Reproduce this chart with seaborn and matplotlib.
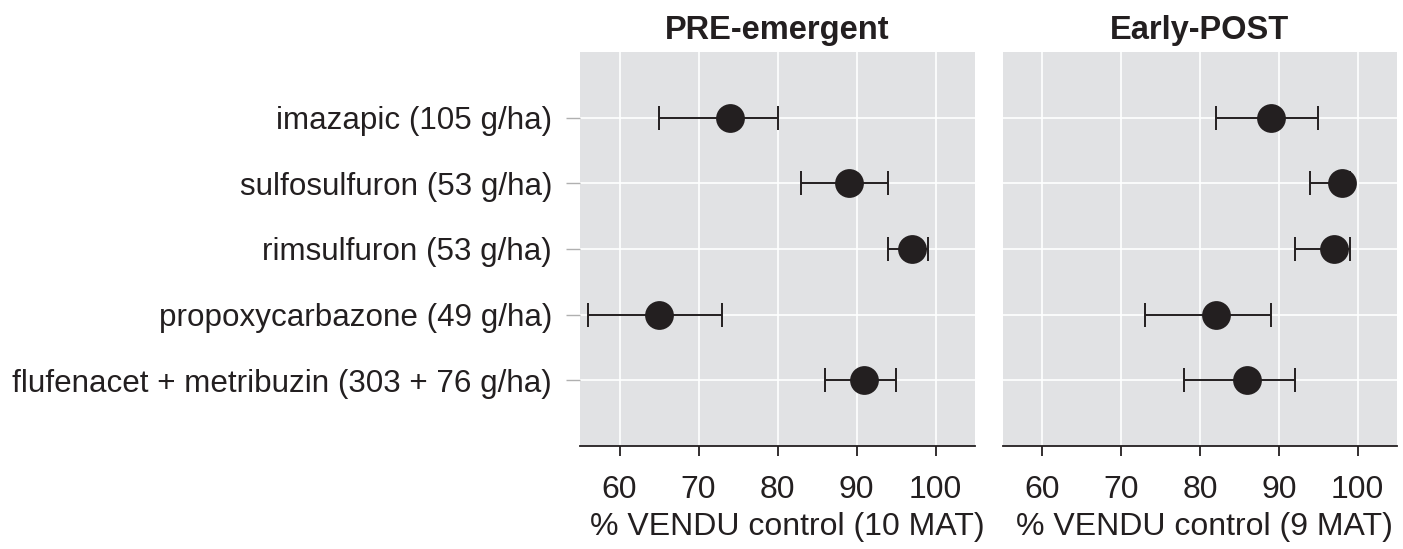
import matplotlib
matplotlib.use("Agg")
import matplotlib.pyplot as plt
import numpy as np
import pandas as pd
import seaborn as sns

# herbicides listed top to bottom
herbicides = ["imazapic (105 g/ha)", "sulfosulfuron (53 g/ha)", "rimsulfuron (53 g/ha)",
              "propoxycarbazone (49 g/ha)", "flufenacet + metribuzin (303 + 76 g/ha)"]
timings = ["PRE-emergent", "Early-POST"]
xlabels = ["% VENDU control (10 MAT)", "% VENDU control (9 MAT)"]

pre_mean = [74, 89, 97, 65, 91]
pre_low = [65, 83, 94, 56, 86]
pre_high = [80, 94, 99, 73, 95]

post_mean = [89, 98, 97, 82, 86]
post_low = [82, 94, 92, 73, 78]
post_high = [95, 99, 99, 89, 92]

xticks = [60, 70, 80, 90, 100]

df = pd.DataFrame({
    "herbicide": herbicides * 2,
    "pos": list(np.arange(len(herbicides))) * 2,
    "timing": [timings[0]] * 5 + [timings[1]] * 5,
    "mean": pre_mean + post_mean,
    "low": pre_low + post_low,
    "high": pre_high + post_high,
})

sns.set_theme(style="white")
plt.rcParams["font.family"] = ["Liberation Sans", "DejaVu Sans"]

ink = "#231f20"
bg = "#e1e2e4"

fig = plt.figure(figsize=(14.03, 5.49), dpi=100)
ax1 = fig.add_axes([0.4134, 0.1876, 0.2816, 0.7177])
ax2 = fig.add_axes([0.7149, 0.1876, 0.2808, 0.7177])

for i, (ax, timing) in enumerate(zip([ax1, ax2], timings)):
    sub = df[df["timing"] == timing]
    ax.set_facecolor(bg)
    ax.set_axisbelow(True)
    ax.grid(True, color="white", linewidth=1.2)
    ax.errorbar(sub["mean"], sub["pos"],
                xerr=[sub["mean"] - sub["low"], sub["high"] - sub["mean"]],
                fmt="none", ecolor=ink, elinewidth=1.4, capsize=8.5, capthick=1.4, zorder=2)
    sns.scatterplot(data=sub, x="mean", y="pos", ax=ax, color=ink, s=430,
                    edgecolor=ink, linewidth=0, legend=False, zorder=3)
    ax.set_xlim(55, 105)
    ax.set_ylim(5, -1)
    ax.set_xticks(xticks)
    ax.set_yticks(np.arange(len(herbicides)))
    if i == 0:
        ax.set_yticklabels(herbicides, fontsize=22.6, color=ink)
        ax.tick_params(axis="y", left=True, length=10, width=1, color="#b0b0b0", pad=10)
    else:
        ax.set_yticklabels([])
        ax.tick_params(axis="y", left=False, length=0)
    ax.tick_params(axis="x", bottom=True, length=7, width=1.3, color=ink,
                   labelsize=23, labelcolor=ink, pad=14)
    ax.set_xlabel(xlabels[i], fontsize=23, color=ink, labelpad=5)
    ax.xaxis.label.set_x(0.525 if i == 0 else 0.512)
    ax.set_ylabel("")
    ax.set_title(timing, fontsize=23.5, fontweight="bold", color=ink, pad=9)
    for side in ["top", "left", "right"]:
        ax.spines[side].set_visible(False)
    ax.spines["bottom"].set_color(ink)
    ax.spines["bottom"].set_linewidth(1.3)

fig.savefig("out.png", dpi=100)
